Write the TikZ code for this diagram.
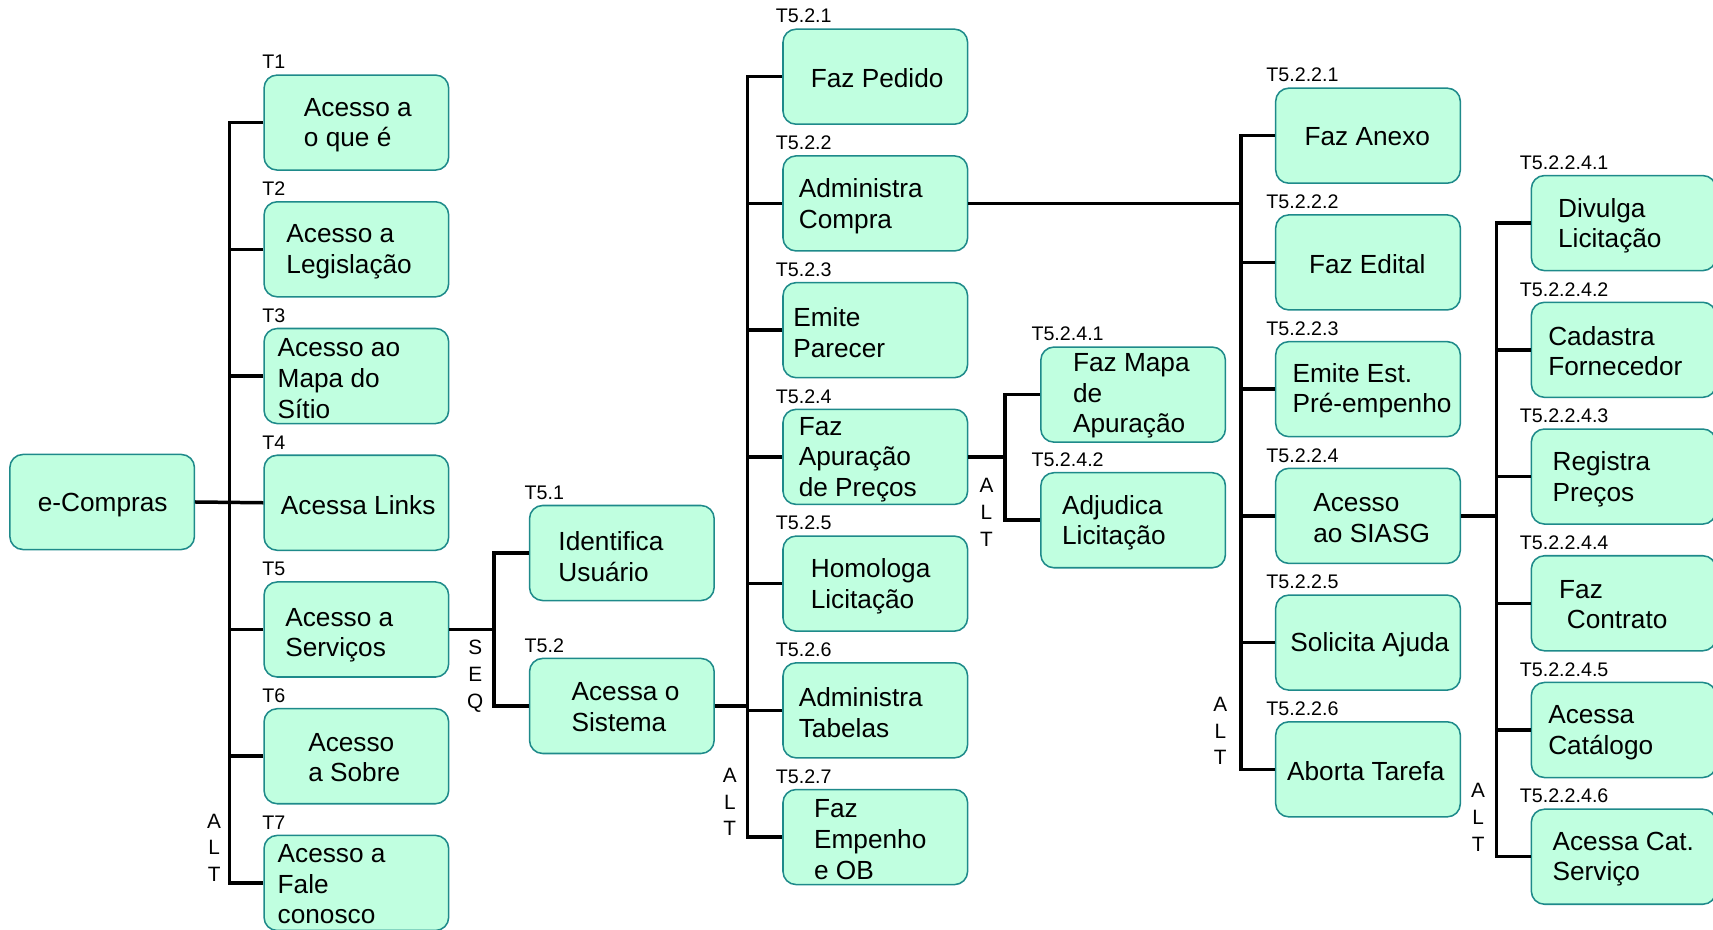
\documentclass[tikz,border=0pt]{standalone}
\usepackage{fontspec}
\setmainfont{Liberation Sans}
\definecolor{boxfill}{RGB}{192,255,224}
\definecolor{boxedge}{RGB}{30,138,138}
\tikzset{
  box/.style={draw=boxedge, fill=boxfill, line width=1.4pt, rounded corners=12pt,
    minimum width=169pt, minimum height=87pt, anchor=north west, inner sep=0pt},
  btext/.style={anchor=west, align=left, inner sep=0pt, yshift=-2.5pt,
    font=\fontsize{24}{28}\selectfont},
  tid/.style={anchor=base west, inner sep=0pt, font=\fontsize{18}{20}\selectfont},
  conn/.style={line width=3.2pt, line join=miter},
  vlab/.style={align=center, inner sep=0pt, font=\fontsize{19}{24.5}\selectfont}
}
% \task{name}{box left}{box top}{id x}{id}{text x}{text y}{text}
\newcommand\task[8]{%
  \node[box] (#1) at (#2,#3) {};
  \node[tid] (#1-id) at (#4,{#3-5}) {#5};
  \node[btext] (#1-txt) at (#6,#7) {#8};
}
\begin{document}
\begin{tikzpicture}[x=1pt,y=-1pt]
\useasboundingbox (0,0) rectangle (1568,850.4);
\clip (0,0) rectangle (1568,850.4);

% bus columns
\coordinate (bus1) at (210,0);
\coordinate (bus2) at (452,0);
\coordinate (bus3) at (684,0);
\coordinate (bus4) at (920,0);
\coordinate (bus5) at (1136,0);
\coordinate (bus6) at (1370,0);

% root
\node[box, anchor=center] (ec) at (93.5,459.5) {};
\node[btext, anchor=center] (ec-txt) at (94,459.5) {e-Compras};

% level 1
\task{t1}{241}{68}{240}{T1}{278}{112}{Acesso a\\o que é}
\task{t2}{241}{184}{240}{T2}{262}{228}{Acesso a\\Legislação}
\task{t3}{241}{300}{240}{T3}{254}{344}{Acesso ao\\Mapa do\\Sítio}
\task{t4}{241}{416}{240}{T4}{257}{460}{Acessa Links}
\task{t5}{241}{532}{240}{T5}{261}{579}{Acesso a\\Serviços}
\task{t6}{241}{648}{240}{T6}{282}{691}{Acesso\\a Sobre}
\task{t7}{241}{764}{240}{T7}{254}{807}{Acesso a\\Fale\\conosco}

% level 2
\task{t51}{484}{462}{480}{T5.1}{511}{507}{Identifica\\Usuário}
\task{t52}{484}{602}{480}{T5.2}{523}{645}{Acessa o\\Sistema}

% level 3
\task{t521}{716}{26}{710}{T5.2.1}{742}{69}{Faz Pedido}
\task{t522}{716}{142}{710}{T5.2.2}{731}{186}{Administra\\Compra}
\task{t523}{716}{258}{710}{T5.2.3}{726}{302}{Emite\\Parecer}
\task{t524}{716}{374}{710}{T5.2.4}{731}{418}{Faz\\Apuração\\de Preços}
\task{t525}{716}{490}{710}{T5.2.5}{742}{534}{Homologa\\Licitação}
\task{t526}{716}{606}{710}{T5.2.6}{731}{650}{Administra\\Tabelas}
\task{t527}{716}{722}{710}{T5.2.7}{745}{766}{Faz\\Empenho\\e OB}

% level 4 under T5.2.4
\task{t5241}{952}{317}{944}{T5.2.4.1}{982}{360}{Faz Mapa\\de\\Apuração}
\task{t5242}{952}{432}{944}{T5.2.4.2}{972}{476}{Adjudica\\Licitação}

% level 4 under T5.2.2
\task{t5221}{1167}{80}{1159}{T5.2.2.1}{1194}{123}{Faz Anexo}
\task{t5222}{1167}{196}{1159}{T5.2.2.2}{1198}{239}{Faz Edital}
\task{t5223}{1167}{312}{1159}{T5.2.2.3}{1183}{355}{Emite Est.\\Pré-empenho}
\task{t5224}{1167}{428}{1159}{T5.2.2.4}{1202}{472}{Acesso\\ao SIASG}
\task{t5225}{1167}{544}{1159}{T5.2.2.5}{1181}{588}{Solicita Ajuda}
\task{t5226}{1167}{660}{1159}{T5.2.2.6}{1178}{703}{Aborta Tarefa}

% level 5 under T5.2.2.4
\task{t52241}{1401}{160}{1391}{T5.2.2.4.1}{1426}{204}{Divulga\\Licitação}
\task{t52242}{1401}{276}{1391}{T5.2.2.4.2}{1417}{319}{Cadastra\\Fornecedor}
\task{t52243}{1401}{392}{1391}{T5.2.2.4.3}{1421}{436}{Registra\\Preços}
\task{t52244}{1401}{508}{1391}{T5.2.2.4.4}{1427}{551}{Faz\\\hspace*{7pt}Contrato}
\task{t52245}{1401}{624}{1391}{T5.2.2.4.5}{1417}{668}{Acessa\\Catálogo}
\task{t52246}{1401}{740}{1391}{T5.2.2.4.6}{1421}{784}{Acessa Cat.\\Serviço}

% connectors: root -> level 1
\draw[conn] (ec.east) -- (t4.west);
\draw[conn] (t1.west) -- (t1.west -| bus1) -- (t7.west -| bus1) -- (t7.west);
\foreach \n in {t2,t3,t5,t6} \draw[conn] (\n.west) -- (\n.west -| bus1);

% T5 -> level 2
\draw[conn] (t5.east) -- (t5.east -| bus2);
\draw[conn] (t51.west) -- (t51.west -| bus2) -- (t52.west -| bus2) -- (t52.west);

% T5.2 -> level 3
\draw[conn] (t52.east) -- (t52.east -| bus3);
\draw[conn] (t521.west) -- (t521.west -| bus3) -- (t527.west -| bus3) -- (t527.west);
\foreach \n in {t522,t523,t524,t525,t526} \draw[conn] (\n.west) -- (\n.west -| bus3);

% T5.2.4 -> its children
\draw[conn] (t524.east) -- (t524.east -| bus4);
\draw[conn] (t5241.west) -- (t5241.west -| bus4) -- (t5242.west -| bus4) -- (t5242.west);

% T5.2.2 -> its children
\draw[conn] (t522.east) -- (t522.east -| bus5);
\draw[conn] (t5221.west) -- (t5221.west -| bus5) -- (t5226.west -| bus5) -- (t5226.west);
\foreach \n in {t5222,t5223,t5224,t5225} \draw[conn] (\n.west) -- (\n.west -| bus5);

% T5.2.2.4 -> its children
\draw[conn] (t5224.east) -- (t5224.east -| bus6);
\draw[conn] (t52241.west) -- (t52241.west -| bus6) -- (t52246.west -| bus6) -- (t52246.west);
\foreach \n in {t52242,t52243,t52244,t52245} \draw[conn] (\n.west) -- (\n.west -| bus6);

% decomposition type marks
\node[vlab] (alt1) at (196,776) {A\\L\\T};
\node[vlab] (seq2) at (435,619) {S\\E\\Q};
\node[vlab] (alt3) at (668,734) {A\\L\\T};
\node[vlab] (alt4) at (903,469) {A\\L\\T};
\node[vlab] (alt5) at (1117,669) {A\\L\\T};
\node[vlab] (alt6) at (1353,748) {A\\L\\T};
\end{tikzpicture}
\end{document}
